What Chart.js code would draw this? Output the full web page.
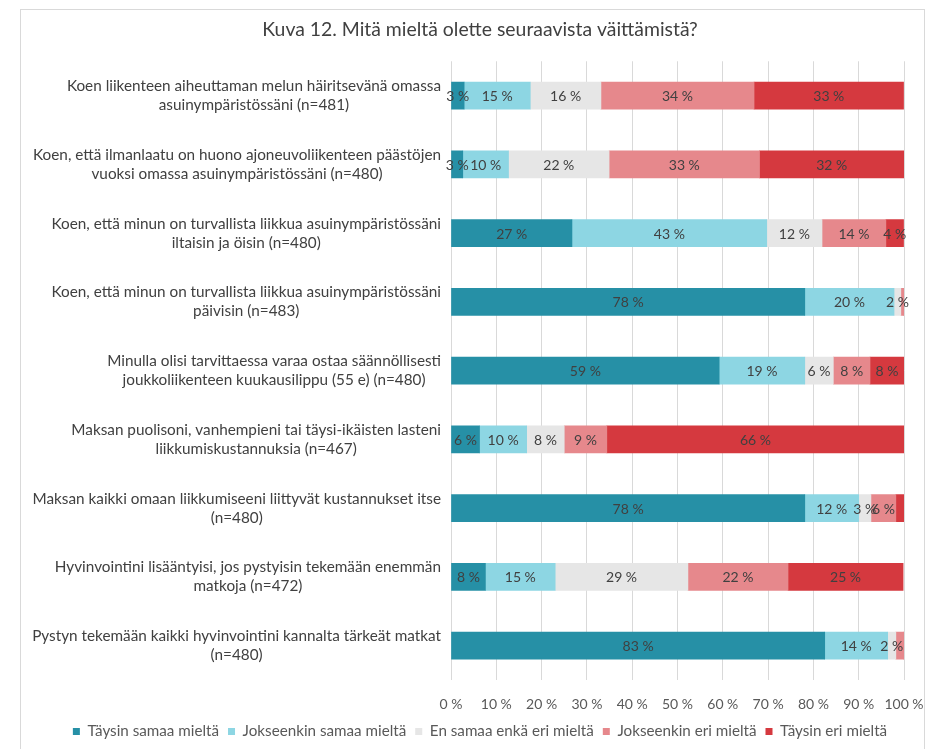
<!DOCTYPE html>
<html>
<head>
<meta charset="utf-8">
<script src="https://cdn.jsdelivr.net/npm/chart.js@4"></script>
<style>
  html, body { margin: 0; padding: 0; background: #fff; }
  #wrap { position: relative; width: 941px; height: 749px; }
  #frame { position: absolute; left: 20px; top: 9px; width: 903px; height: 760px; border: 1px solid #d9d9d9; pointer-events: none; }
</style>
</head>
<body>
<div id="wrap">
  <canvas id="myChart" width="941" height="749"></canvas>
  <div id="frame"></div>
</div>
<script>
// kysymykset (kategoriat)
const questions = [
  ["Koen liikenteen aiheuttaman melun häiritsevänä omassa", "asuinympäristössäni (n=481)"],
  ["Koen, että ilmanlaatu on huono ajoneuvoliikenteen päästöjen", "vuoksi omassa asuinympäristössäni (n=480)"],
  ["Koen, että minun on turvallista liikkua asuinympäristössäni", "iltaisin ja öisin (n=480)"],
  ["Koen, että minun on turvallista liikkua asuinympäristössäni", "päivisin (n=483)"],
  ["Minulla olisi tarvittaessa varaa ostaa säännöllisesti", "joukkoliikenteen kuukausilippu (55 e) (n=480)"],
  ["Maksan puolisoni, vanhempieni tai täysi-ikäisten lasteni", "liikkumiskustannuksia (n=467)"],
  ["Maksan kaikki omaan liikkumiseeni liittyvät kustannukset itse", "(n=480)"],
  ["Hyvinvointini lisääntyisi, jos pystyisin tekemään enemmän", "matkoja (n=472)"],
  ["Pystyn tekemään kaikki hyvinvointini kannalta tärkeät matkat", "(n=480)"]
];

const seriesNames = ["Täysin samaa mieltä", "Jokseenkin samaa mieltä", "En samaa enkä eri mieltä", "Jokseenkin eri mieltä", "Täysin eri mieltä"];

// prosentit per sarja
const taysinSamaa     = [2.9, 2.6, 26.7, 78.1, 59.2, 6.3, 78.1, 7.6, 82.5];
const jokseenkinSamaa = [14.6, 10.1, 43.0, 19.7, 18.9, 10.4, 11.9, 15.4, 13.9];
const eiKumpikaan     = [15.6, 22.2, 12.2, 1.5, 6.3, 8.3, 2.7, 29.3, 1.8];
const jokseenkinEri   = [33.8, 33.2, 14.1, 0.7, 8.1, 9.4, 5.5, 22.1, 1.8];
const taysinEri       = [33.0, 31.9, 3.9, 0, 7.5, 65.6, 1.8, 25.4, 0];

const xTicks = [0, 10, 20, 30, 40, 50, 60, 70, 80, 90, 100];

const colors = ["#2690a6", "#8dd6e3", "#e6e6e6", "#e6888c", "#d5393f"];
const allSeries = [taysinSamaa, jokseenkinSamaa, eiKumpikaan, jokseenkinEri, taysinEri];

const FONT = "Lato";

// labelit palkkien keskelle
const barLabels = {
  id: "barLabels",
  afterDatasetsDraw(chart) {
    const ctx = chart.ctx;
    ctx.save();
    ctx.font = "14px " + FONT;
    ctx.fillStyle = "#404040";
    ctx.textAlign = "center";
    ctx.textBaseline = "middle";
    chart.data.datasets.forEach((ds, i) => {
      const meta = chart.getDatasetMeta(i);
      meta.data.forEach((bar, j) => {
        const v = ds.data[j];
        if (v <= 0) return;
        if (i >= 3 && v < 2.5) return;
        const p = bar.getCenterPoint();
        ctx.fillText(Math.round(v) + " %", p.x, p.y + 1);
      });
    });
    ctx.restore();
  }
};

// y-akselin tekstit: lohko oikealle, rivit keskitetty lohkon sisällä
const yLabels = {
  id: "yLabels",
  afterDraw(chart) {
    const s = chart.scales.y;
    const ctx = chart.ctx;
    ctx.save();
    ctx.font = "15.3px " + FONT;
    ctx.fillStyle = "#404040";
    ctx.textAlign = "center";
    ctx.textBaseline = "middle";
    const right = s.right - 10;
    s.ticks.forEach((t, i) => {
      const lines = chart.data.labels[i];
      const y = s.getPixelForTick(i);
      const w = Math.max(...lines.map(l => ctx.measureText(l).width));
      const cx = right - w / 2;
      const lh = 19;
      const y0 = y - (lines.length - 1) * lh / 2;
      lines.forEach((l, k) => ctx.fillText(l, cx, y0 + k * lh));
    });
    ctx.restore();
  }
};

new Chart("myChart", {
  type: "bar",
  data: {
    labels: questions,
    datasets: allSeries.map((d, i) => ({
      label: seriesNames[i],
      data: d,
      backgroundColor: colors[i],
      barThickness: 27
    }))
  },
  options: {
    indexAxis: "y",
    responsive: false,
    animation: false,
    layout: { padding: { left: 43, right: 24, top: 0, bottom: 0 } },
    scales: {
      x: {
        stacked: true,
        min: 0,
        max: 100,
        afterBuildTicks: s => { s.ticks = xTicks.map(v => ({ value: v })); },
        afterFit: s => { s.height -= 14; s.paddingRight = 37; },
        grid: { color: "#d9d9d9", drawTicks: false },
        border: { display: false },
        ticks: {
          padding: 16,
          color: "#595959",
          font: { family: FONT, size: 14 },
          callback: v => v + " %"
        }
      },
      y: {
        stacked: true,
        grid: { display: false },
        border: { display: false },
        afterFit: s => { s.width = 408; },
        ticks: { display: false }
      }
    },
    plugins: {
      title: {
        display: true,
        text: "Kuva 12. Mitä mieltä olette seuraavista väittämistä?",
        color: "#404040",
        font: { family: FONT, size: 19.4, weight: "normal" },
        padding: { top: 18, bottom: 20 }
      },
      legend: {
        position: "bottom",
        labels: {
          boxWidth: 7,
          boxHeight: 7,
          padding: 9,
          color: "#595959",
          font: { family: FONT, size: 15.2 }
        }
      },
      tooltip: { enabled: false }
    }
  },
  plugins: [barLabels, yLabels]
});
</script>
</body>
</html>
